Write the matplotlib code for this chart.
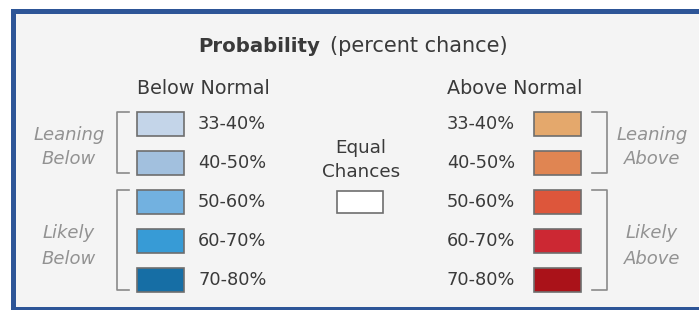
import matplotlib.pyplot as plt
from matplotlib.patches import Rectangle

# Datos de la leyenda
etiquetas_bajo = ['33-40%', '40-50%', '50-60%', '60-70%', '70-80%']
colores_bajo = ['#c4d5e9', '#a2c0de', '#72b1e0', '#379bd6', '#166ea5']
etiquetas_alto = ['33-40%', '40-50%', '50-60%', '60-70%', '70-80%']
colores_alto = ['#e4a86c', '#e08552', '#dd563b', '#cc2833', '#aa1219']
grupos_bajo = ['Leaning\nBelow', 'Likely\nBelow']
grupos_alto = ['Leaning\nAbove', 'Likely\nAbove']

texto = '#3a3a3a'
gris = '#929292'

fig = plt.figure(figsize=(6.99, 3.10), dpi=100)
fig.patch.set_facecolor('white')
ax = fig.add_axes([0, 0, 1, 1])
ax.set_xlim(0, 699)
ax.set_ylim(310, 0)
ax.axis('off')

# Marco azul y fondo gris claro
ax.add_patch(Rectangle((12.5, 11), 710, 297.5, facecolor='#f4f4f4',
                       edgecolor='#2d5597', linewidth=3.6))

# Titulo
ax.text(320, 46, 'Probability', ha='right', va='center', fontsize=14.2,
        fontweight='bold', color=texto)
ax.text(330, 46, '(percent chance)', ha='left', va='center', fontsize=15,
        color=texto)

ax.text(137, 88, 'Below Normal', ha='left', va='center', fontsize=13.8, color=texto)
ax.text(447, 88, 'Above Normal', ha='left', va='center', fontsize=13.8, color=texto)

# Filas
y0, paso = 124, 39
ancho, alto = 47, 24
for i, (et, col) in enumerate(zip(etiquetas_bajo, colores_bajo)):
    y = y0 + i * paso
    ax.add_patch(Rectangle((137, y - alto / 2), ancho, alto, facecolor=col,
                           edgecolor='#6e6e6e', linewidth=1.2))
    ax.text(198, y, et, ha='left', va='center', fontsize=12.8, color=texto)

for i, (et, col) in enumerate(zip(etiquetas_alto, colores_alto)):
    y = y0 + i * paso
    ax.add_patch(Rectangle((534, y - alto / 2), ancho, alto, facecolor=col,
                           edgecolor='#6e6e6e', linewidth=1.2))
    ax.text(447, y, et, ha='left', va='center', fontsize=12.8, color=texto)

# Probabilidades iguales
ax.text(361, 160, 'Equal\nChances', ha='center', va='center', fontsize=13.2,
        color=texto, linespacing=1.4)
ax.add_patch(Rectangle((337, y0 + 2 * paso - 11), 46, 22, facecolor='white',
                       edgecolor='#6e6e6e', linewidth=1.2))

# Corchetes
def corchete(x, xt, fila_ini, fila_fin):
    top = y0 + fila_ini * paso - 12
    bot = y0 + fila_fin * paso + 10
    ax.plot([xt, x, x, xt], [top, top, bot, bot], color='#8a8a8a', linewidth=1.2)

corchete(117, 129, 0, 1)
corchete(117, 129, 2, 4)
corchete(607, 592, 0, 1)
corchete(607, 592, 2, 4)

for txt, ym in zip(grupos_bajo, [147, 246]):
    ax.text(69, ym, txt, ha='center', va='center', fontsize=13, color=gris,
            style='italic', linespacing=1.5)
for txt, ym in zip(grupos_alto, [147, 246]):
    ax.text(652, ym, txt, ha='center', va='center', fontsize=13, color=gris,
            style='italic', linespacing=1.5)

fig.savefig('out.png', dpi=100)
